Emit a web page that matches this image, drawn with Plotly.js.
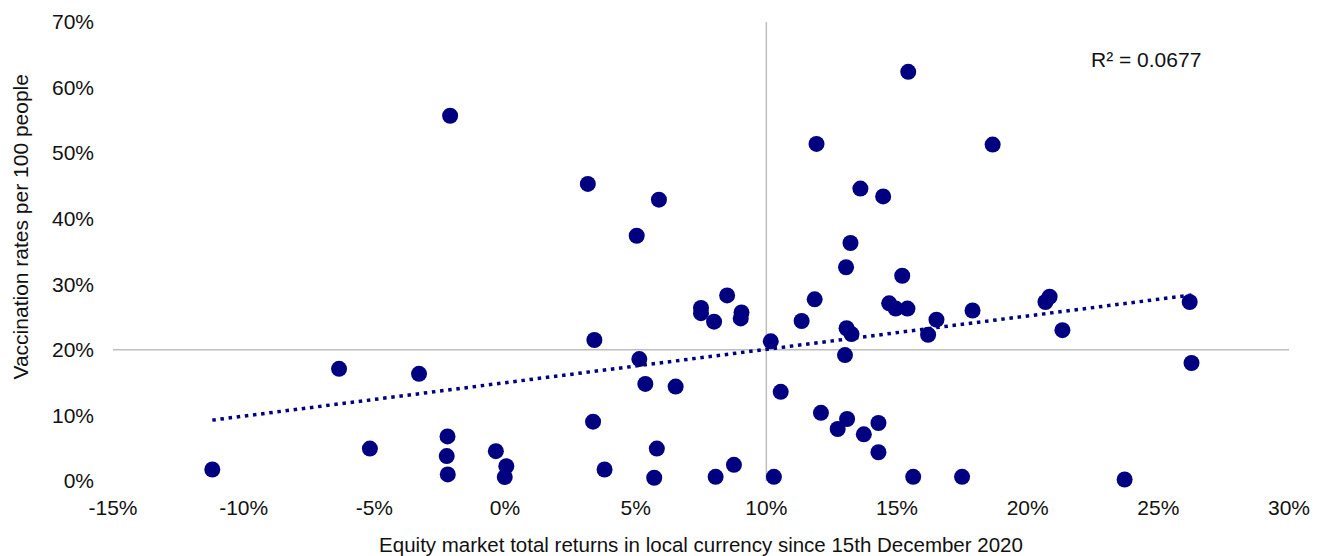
<!DOCTYPE html>
<html>
<head>
<meta charset="utf-8">
<script src="https://cdn.plot.ly/plotly-3.0.1.min.js"></script>
<style>
html,body{margin:0;padding:0;background:#fff;}
#chart{width:1327px;height:556px;}
</style>
</head>
<body>
<div id="chart"></div>
<script>
// Equity market total returns in local currency since 15 Dec 2020 (%)
const equityReturns = [
  -11.2, -6.35, -5.17, -3.29, -2.20, -2.23, -2.19, -2.10, -0.35, 0.05,
  -0.01, 3.17, 3.37, 3.42, 3.81, 5.04, 5.14, 5.37, 5.81, 5.71,
  5.89, 6.53, 7.50, 7.50, 8.00, 8.50, 9.05, 9.02, 8.06, 8.76,
  10.17, 10.55, 10.29, 11.92, 11.35, 11.85, 12.09, 12.73, 13.60, 14.47,
  13.22, 13.05, 15.43, 18.66, 15.20, 13.07, 13.26, 13.01, 14.70, 13.09,
  13.73, 14.29, 14.29, 14.95, 15.40, 16.51, 16.19, 17.89, 20.68, 20.84,
  21.33, 26.20, 26.27, 15.62, 17.49, 23.71
];
// Vaccination rates per 100 people (%)
const vaccinationRates = [
  1.75, 17.1, 4.94, 16.35, 6.8, 3.8, 1.0, 55.7, 4.55, 2.25,
  0.6, 45.3, 9.05, 21.5, 1.75, 37.4, 18.6, 14.8, 4.94, 0.5,
  42.9, 14.4, 26.4, 25.6, 24.3, 28.3, 25.7, 24.8, 0.63, 2.46,
  21.3, 13.6, 0.64, 51.4, 24.4, 27.7, 10.4, 7.93, 44.6, 43.4,
  36.3, 32.6, 62.4, 51.3, 31.3, 23.3, 22.4, 19.2, 27.1, 9.46,
  7.12, 8.85, 4.38, 26.3, 26.3, 24.6, 22.3, 26.0, 27.3, 28.1,
  23.0, 27.3, 18.0, 0.64, 0.64, 0.23
];
const xTickValues = [-15, -10, -5, 0, 5, 10, 15, 20, 25, 30];
const xTickLabels = ['-15%', '-10%', '-5%', '0%', '5%', '10%', '15%', '20%', '25%', '30%'];
const yTickValues = [0, 10, 20, 30, 40, 50, 60, 70];
const yTickLabels = ['0%', '10%', '20%', '30%', '40%', '50%', '60%', '70%'];
const rSquaredLabel = 'R² = 0.0677';

// Linear trend (least squares) computed from the data
const n = equityReturns.length;
const mx = equityReturns.reduce((a, b) => a + b, 0) / n;
const my = vaccinationRates.reduce((a, b) => a + b, 0) / n;
let sxy = 0, sxx = 0;
for (let i = 0; i < n; i++) {
  sxy += (equityReturns[i] - mx) * (vaccinationRates[i] - my);
  sxx += (equityReturns[i] - mx) ** 2;
}
const slope = sxy / sxx;
const intercept = my - slope * mx;
const xMin = Math.min(...equityReturns), xMax = Math.max(...equityReturns);
const trendX = [xMin, xMax];
const trendY = trendX.map(v => intercept + slope * v);

const navy = '#000080';
const font = {family: 'Arial, "Liberation Sans", sans-serif', size: 21, color: '#111111'};

const traces = [
  {
    type: 'scatter', mode: 'lines', x: trendX, y: trendY,
    line: {color: navy, width: 3.5, dash: '3.5px,4.7px'},
    hoverinfo: 'skip', showlegend: false
  },
  {
    type: 'scatter', mode: 'markers', x: equityReturns, y: vaccinationRates,
    marker: {color: navy, size: 16, line: {width: 0}},
    cliponaxis: false, showlegend: false
  }
];

const layout = {
  width: 1327, height: 556,
  margin: {l: 113, r: 38, t: 22, b: 75},
  paper_bgcolor: '#ffffff', plot_bgcolor: '#ffffff',
  font: font,
  showlegend: false,
  xaxis: {
    range: [-15, 30], tickmode: 'array', tickvals: xTickValues, ticktext: xTickLabels,
    showgrid: false, zeroline: false, showline: false, ticks: '',
    tickfont: font, ticklabelstandoff: 12,
    title: {text: 'Equity market total returns in local currency since 15th December 2020',
            font: {family: font.family, size: 20.5, color: '#111111'}, standoff: 26}
  },
  yaxis: {
    range: [0, 70], tickmode: 'array', tickvals: yTickValues, ticktext: yTickLabels,
    showgrid: false, zeroline: false, showline: false, ticks: '',
    tickfont: font, ticklabelstandoff: 18
  },
  shapes: [
    {type: 'line', xref: 'x', yref: 'y', x0: -15, x1: 30, y0: 20, y1: 20,
     line: {color: '#BFBFBF', width: 1.5}, layer: 'below'},
    {type: 'line', xref: 'x', yref: 'y', x0: 10, x1: 10, y0: 0, y1: 70,
     line: {color: '#BFBFBF', width: 1.5}, layer: 'below'}
  ],
  annotations: [
    {text: rSquaredLabel, xref: 'x', yref: 'y', x: 22.35, y: 64.3,
     xanchor: 'left', yanchor: 'middle', showarrow: false, font: font},
    {text: 'Vaccination rates per 100 people', xref: 'paper', yref: 'paper',
     x: -0.0784, y: 0.554, xanchor: 'center', yanchor: 'middle', textangle: -90,
     showarrow: false, font: font}
  ]
};

Plotly.newPlot('chart', traces, layout, {displayModeBar: false, staticPlot: true});
</script>
</body>
</html>
